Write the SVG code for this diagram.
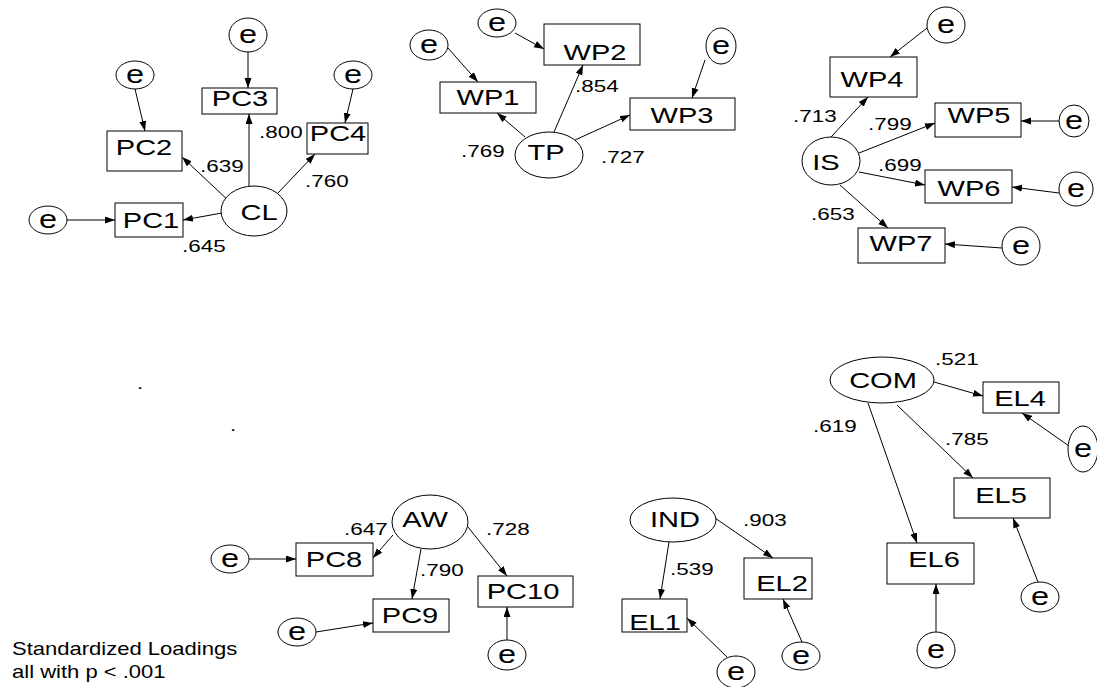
<svg xmlns="http://www.w3.org/2000/svg" width="1097" height="687" viewBox="0 0 1097 687">
<defs>
<marker id="ah" markerUnits="userSpaceOnUse" markerWidth="10" markerHeight="8" refX="10" refY="3.5" orient="auto"><path d="M0,0 L10,3.5 L0,7 z" fill="#000"/></marker>
</defs>
<style>
.bx{fill:#fff;stroke:#000;stroke-width:1}
.el{fill:#fff;stroke:#000;stroke-width:1}
.lb{font-family:"Liberation Sans",Arial,sans-serif;font-size:22px;text-anchor:middle;fill:#000}
.et{font-family:"Liberation Sans",Arial,sans-serif;font-size:25px;text-anchor:middle;fill:#000}
.nm{font-family:"Liberation Sans",Arial,sans-serif;font-size:17px;fill:#000}
.nt{font-family:"Liberation Sans",Arial,sans-serif;font-size:18.5px;fill:#000}
#conn line{stroke:#000;stroke-width:1;marker-end:url(#ah)}
</style>
<rect width="1097" height="687" fill="#fff"/>
<g id="conn">
<line x1="222" y1="213" x2="183" y2="220"/>
<line x1="230" y1="202" x2="182" y2="157"/>
<line x1="249" y1="186" x2="249" y2="114"/>
<line x1="278" y1="193" x2="315" y2="154"/>
<line x1="248" y1="52" x2="248" y2="88"/>
<line x1="135" y1="89" x2="145" y2="131"/>
<line x1="353" y1="89" x2="345" y2="123"/>
<line x1="67" y1="220" x2="115" y2="220"/>
<line x1="525" y1="137" x2="497" y2="113"/>
<line x1="554" y1="132" x2="583" y2="65"/>
<line x1="575" y1="140" x2="630" y2="115"/>
<line x1="448" y1="48" x2="478" y2="82"/>
<line x1="515" y1="33" x2="544" y2="49"/>
<line x1="705" y1="60" x2="692" y2="98"/>
<line x1="831" y1="137" x2="868" y2="97"/>
<line x1="859" y1="153" x2="935" y2="123"/>
<line x1="859" y1="172" x2="925" y2="185"/>
<line x1="840" y1="185" x2="888" y2="228"/>
<line x1="927" y1="28" x2="890" y2="57"/>
<line x1="1059" y1="121" x2="1021" y2="121"/>
<line x1="1059" y1="193" x2="1012" y2="187"/>
<line x1="1002" y1="248" x2="945" y2="244"/>
<line x1="934" y1="382" x2="983" y2="396"/>
<line x1="897" y1="405" x2="973" y2="478"/>
<line x1="868" y1="403" x2="917" y2="543"/>
<line x1="1069" y1="446" x2="1022" y2="413"/>
<line x1="1038" y1="582" x2="1013" y2="518"/>
<line x1="936" y1="632" x2="936" y2="584"/>
<line x1="393" y1="535" x2="373" y2="558"/>
<line x1="421" y1="549" x2="412" y2="599"/>
<line x1="468" y1="527" x2="507" y2="576"/>
<line x1="249" y1="559" x2="296" y2="559"/>
<line x1="316" y1="632" x2="373" y2="623"/>
<line x1="507" y1="640" x2="507" y2="607"/>
<line x1="669" y1="542" x2="660" y2="599"/>
<line x1="715" y1="518" x2="773" y2="558"/>
<line x1="727" y1="657" x2="687" y2="618"/>
<line x1="802" y1="642" x2="783" y2="599"/>
</g>
<!-- latent variables -->
<g id="CL"><ellipse class="el" cx="254" cy="211" rx="33" ry="25"/><text class="lb" transform="translate(259,220) scale(1.32,1)">CL</text></g>
<g id="TP"><ellipse class="el" cx="549" cy="155" rx="34" ry="23"/><text class="lb" transform="translate(546,160) scale(1.32,1)">TP</text></g>
<g id="IS"><ellipse class="el" cx="831" cy="161" rx="29" ry="24"/><text class="lb" transform="translate(826,170) scale(1.32,1)">IS</text></g>
<g id="COM"><ellipse class="el" cx="882" cy="380" rx="52" ry="23"/><text class="lb" transform="translate(883,388) scale(1.32,1)">COM</text></g>
<g id="AW"><ellipse class="el" cx="430" cy="522" rx="38" ry="27"/><text class="lb" transform="translate(425,527) scale(1.32,1)">AW</text></g>
<g id="IND"><ellipse class="el" cx="673" cy="520" rx="43" ry="22"/><text class="lb" transform="translate(675,527) scale(1.32,1)">IND</text></g>
<!-- indicators -->
<g id="PC1"><rect class="bx" x="115" y="203" width="68" height="34"/><text class="lb" transform="translate(151,228) scale(1.32,1)">PC1</text></g>
<g id="PC2"><rect class="bx" x="107" y="131" width="75" height="40"/><text class="lb" transform="translate(144,155) scale(1.32,1)">PC2</text></g>
<g id="PC3"><rect class="bx" x="202" y="88" width="75" height="26"/><text class="lb" transform="translate(240,106) scale(1.32,1)">PC3</text></g>
<g id="PC4"><rect class="bx" x="307" y="123" width="61" height="31"/><text class="lb" transform="translate(338,141) scale(1.32,1)">PC4</text></g>
<g id="WP1"><rect class="bx" x="440" y="82" width="96" height="31"/><text class="lb" transform="translate(488,105) scale(1.32,1)">WP1</text></g>
<g id="WP2"><rect class="bx" x="544" y="24" width="96" height="41"/><text class="lb" transform="translate(595,60) scale(1.32,1)">WP2</text></g>
<g id="WP3"><rect class="bx" x="630" y="98" width="105" height="32"/><text class="lb" transform="translate(682,123) scale(1.32,1)">WP3</text></g>
<g id="WP4"><rect class="bx" x="830" y="57" width="87" height="40"/><text class="lb" transform="translate(872,87) scale(1.32,1)">WP4</text></g>
<g id="WP5"><rect class="bx" x="935" y="103" width="86" height="34"/><text class="lb" transform="translate(979,123) scale(1.32,1)">WP5</text></g>
<g id="WP6"><rect class="bx" x="925" y="170" width="87" height="33"/><text class="lb" transform="translate(969,196) scale(1.32,1)">WP6</text></g>
<g id="WP7"><rect class="bx" x="858" y="228" width="87" height="35"/><text class="lb" transform="translate(901,251) scale(1.32,1)">WP7</text></g>
<g id="EL4"><rect class="bx" x="983" y="382" width="76" height="31"/><text class="lb" transform="translate(1020,406) scale(1.32,1)">EL4</text></g>
<g id="EL5"><rect class="bx" x="954" y="478" width="96" height="40"/><text class="lb" transform="translate(1001,503) scale(1.32,1)">EL5</text></g>
<g id="EL6"><rect class="bx" x="887" y="543" width="87" height="41"/><text class="lb" transform="translate(934,567) scale(1.32,1)">EL6</text></g>
<g id="EL1"><rect class="bx" x="622" y="599" width="65" height="33"/><text class="lb" transform="translate(655,630) scale(1.32,1)">EL1</text></g>
<g id="EL2"><rect class="bx" x="744" y="558" width="68" height="41"/><text class="lb" transform="translate(782,591) scale(1.32,1)">EL2</text></g>
<g id="PC8"><rect class="bx" x="296" y="543" width="77" height="33"/><text class="lb" transform="translate(334,567) scale(1.32,1)">PC8</text></g>
<g id="PC9"><rect class="bx" x="373" y="599" width="76" height="33"/><text class="lb" transform="translate(410,623) scale(1.32,1)">PC9</text></g>
<g id="PC10"><rect class="bx" x="478" y="576" width="95" height="31"/><text class="lb" transform="translate(523,599) scale(1.32,1)">PC10</text></g>
<!-- error terms -->
<g id="e_PC3"><ellipse class="el" cx="248" cy="35" rx="19" ry="17"/><text class="et" transform="translate(248,43) scale(1.3,1)">e</text></g>
<g id="e_PC2"><ellipse class="el" cx="135" cy="75" rx="19" ry="14"/><text class="et" transform="translate(135,83) scale(1.3,1)">e</text></g>
<g id="e_PC4"><ellipse class="el" cx="353" cy="75" rx="19" ry="14"/><text class="et" transform="translate(353,83) scale(1.3,1)">e</text></g>
<g id="e_PC1"><ellipse class="el" cx="48" cy="220" rx="19" ry="14"/><text class="et" transform="translate(48,228) scale(1.3,1)">e</text></g>
<g id="e_WP1"><ellipse class="el" cx="429" cy="45" rx="19" ry="15"/><text class="et" transform="translate(429,53) scale(1.3,1)">e</text></g>
<g id="e_WP2"><ellipse class="el" cx="497" cy="23" rx="19" ry="14"/><text class="et" transform="translate(497,31) scale(1.3,1)">e</text></g>
<g id="e_WP3"><ellipse class="el" cx="721" cy="46" rx="15" ry="18"/><text class="et" transform="translate(721,54) scale(1.3,1)">e</text></g>
<g id="e_WP4"><ellipse class="el" cx="946" cy="25" rx="19" ry="18"/><text class="et" transform="translate(946,33) scale(1.3,1)">e</text></g>
<g id="e_WP5"><ellipse class="el" cx="1074" cy="121" rx="15" ry="16"/><text class="et" transform="translate(1074,129) scale(1.3,1)">e</text></g>
<g id="e_WP6"><ellipse class="el" cx="1076" cy="189" rx="17" ry="17"/><text class="et" transform="translate(1076,197) scale(1.3,1)">e</text></g>
<g id="e_WP7"><ellipse class="el" cx="1021" cy="246" rx="19" ry="19"/><text class="et" transform="translate(1021,254) scale(1.3,1)">e</text></g>
<g id="e_EL4"><ellipse class="el" cx="1083" cy="449" rx="15" ry="23"/><text class="et" transform="translate(1083,457) scale(1.3,1)">e</text></g>
<g id="e_EL5"><ellipse class="el" cx="1040" cy="597" rx="19" ry="15"/><text class="et" transform="translate(1040,605) scale(1.3,1)">e</text></g>
<g id="e_EL6"><ellipse class="el" cx="936" cy="650" rx="19" ry="18"/><text class="et" transform="translate(936,658) scale(1.3,1)">e</text></g>
<g id="e_EL2"><ellipse class="el" cx="801" cy="656" rx="19" ry="14"/><text class="et" transform="translate(801,664) scale(1.3,1)">e</text></g>
<g id="e_EL1"><ellipse class="el" cx="736" cy="672" rx="19" ry="16"/><text class="et" transform="translate(736,680) scale(1.3,1)">e</text></g>
<g id="e_PC10"><ellipse class="el" cx="507" cy="655" rx="19" ry="15"/><text class="et" transform="translate(507,663) scale(1.3,1)">e</text></g>
<g id="e_PC9"><ellipse class="el" cx="297" cy="632" rx="19" ry="14"/><text class="et" transform="translate(297,640) scale(1.3,1)">e</text></g>
<g id="e_PC8"><ellipse class="el" cx="230" cy="559" rx="19" ry="14"/><text class="et" transform="translate(230,567) scale(1.3,1)">e</text></g>
<!-- loadings -->
<g id="loadings">
<text class="nm" transform="translate(200,172) scale(1.32,1)">.639</text>
<text class="nm" transform="translate(259,138) scale(1.32,1)">.800</text>
<text class="nm" transform="translate(305,187) scale(1.32,1)">.760</text>
<text class="nm" transform="translate(182,252) scale(1.32,1)">.645</text>
<text class="nm" transform="translate(461,157) scale(1.32,1)">.769</text>
<text class="nm" transform="translate(575,92) scale(1.32,1)">.854</text>
<text class="nm" transform="translate(601,163) scale(1.32,1)">.727</text>
<text class="nm" transform="translate(793,122) scale(1.32,1)">.713</text>
<text class="nm" transform="translate(868,130) scale(1.32,1)">.799</text>
<text class="nm" transform="translate(878,171) scale(1.32,1)">.699</text>
<text class="nm" transform="translate(811,220) scale(1.32,1)">.653</text>
<text class="nm" transform="translate(935,365) scale(1.32,1)">.521</text>
<text class="nm" transform="translate(813,432) scale(1.32,1)">.619</text>
<text class="nm" transform="translate(945,445) scale(1.32,1)">.785</text>
<text class="nm" transform="translate(344,535) scale(1.32,1)">.647</text>
<text class="nm" transform="translate(420,576) scale(1.32,1)">.790</text>
<text class="nm" transform="translate(486,535) scale(1.32,1)">.728</text>
<text class="nm" transform="translate(743,526) scale(1.32,1)">.903</text>
<text class="nm" transform="translate(670,575) scale(1.32,1)">.539</text>
<text class="nm" transform="translate(137,389) scale(1.32,1)">.</text>
<text class="nm" transform="translate(230,431) scale(1.32,1)">.</text>
</g>
<g id="note">
<text class="nt" transform="translate(12,655) scale(1.19,1)">Standardized Loadings</text>
<text class="nt" transform="translate(12,678) scale(1.19,1)">all with p &lt; .001</text>
</g>
</svg>
